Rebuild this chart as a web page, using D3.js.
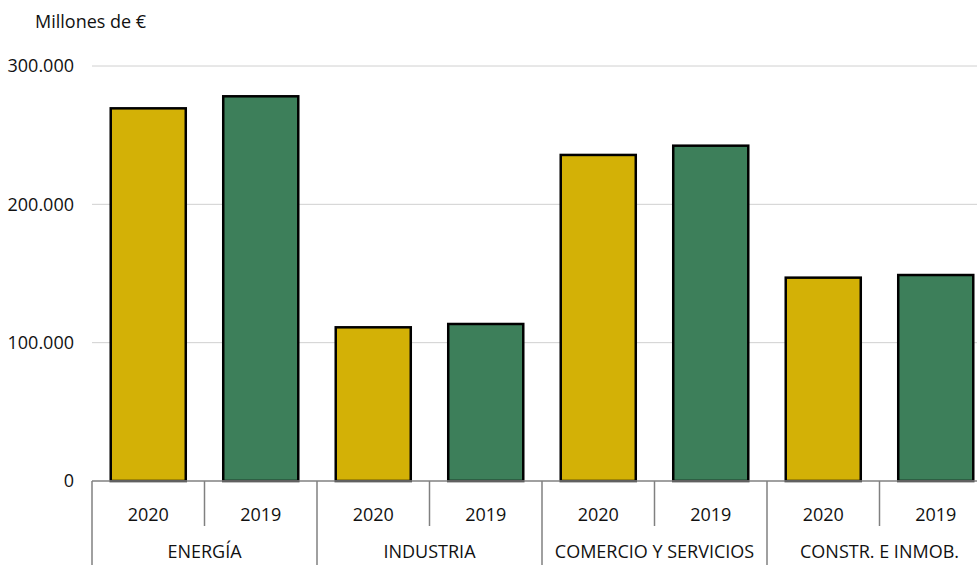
<!DOCTYPE html>
<html>
<head>
<meta charset="utf-8">
<script src="https://cdn.jsdelivr.net/npm/d3@7"></script>
<style>
  html, body { margin: 0; padding: 0; background: #fff; }
  svg { display: block; font-family: "Open Sans", "Noto Sans", sans-serif; }
</style>
</head>
<body>
<div id="chart"></div>
<script>
const width = 977;
const height = 565;

// Datos
const sectores = ["ENERGÍA", "INDUSTRIA", "COMERCIO Y SERVICIOS", "CONSTR. E INMOB."];
const anios = ["2020", "2019"];
const valores2020 = [269400, 111100, 235700, 147000];
const valores2019 = [278100, 113500, 242400, 148900];
const ticksY = [0, 100000, 200000, 300000];

const colores = { "2020": "#d3b106", "2019": "#3d7f5a" };

const margin = { top: 66, left: 92, bottom: 84 };
const plotRight = 992;
const fs = 18;

const svg = d3.select("#chart")
  .append("svg")
  .attr("width", width)
  .attr("height", height);

// Escalas
const x0 = d3.scaleBand()
  .domain(sectores)
  .range([margin.left, plotRight])
  .padding(0);

const x1 = d3.scaleBand()
  .domain(anios)
  .range([0, x0.bandwidth()])
  .paddingInner(0.333)
  .paddingOuter(0.1665);

const y = d3.scaleLinear()
  .domain([0, 300000])
  .range([height - margin.bottom, margin.top]);

const fmt = d => d3.format(",")(d).replace(/,/g, ".");

// Rejilla
svg.append("g")
  .selectAll("line")
  .data(ticksY.filter(d => d > 0))
  .join("line")
  .attr("x1", margin.left)
  .attr("x2", width)
  .attr("y1", d => y(d))
  .attr("y2", d => y(d))
  .attr("stroke", "#d0d0d0")
  .attr("stroke-width", 1);

// Etiquetas eje Y
svg.append("g")
  .selectAll("text")
  .data(ticksY)
  .join("text")
  .attr("x", 74)
  .attr("y", d => y(d))
  .attr("dy", "0.36em")
  .attr("text-anchor", "end")
  .attr("font-size", fs)
  .attr("fill", "#111")
  .text(d => fmt(d));

svg.append("text")
  .attr("x", 35)
  .attr("y", 28)
  .attr("font-size", fs)
  .attr("fill", "#111")
  .text("Millones de €");

// Barras
const datos = [];
sectores.forEach((s, i) => {
  datos.push({ sector: s, anio: "2020", valor: valores2020[i] });
  datos.push({ sector: s, anio: "2019", valor: valores2019[i] });
});

svg.append("g")
  .selectAll("rect")
  .data(datos)
  .join("rect")
  .attr("x", d => x0(d.sector) + x1(d.anio))
  .attr("width", x1.bandwidth())
  .attr("y", d => y(d.valor))
  .attr("height", d => y(0) - y(d.valor))
  .attr("fill", d => colores[d.anio])
  .attr("stroke", "#000")
  .attr("stroke-width", 2.5);

// Eje X
const base = y(0);
svg.append("line")
  .attr("x1", margin.left)
  .attr("x2", width)
  .attr("y1", base)
  .attr("y2", base)
  .attr("stroke", "#808080")
  .attr("stroke-width", 1.5);

// Separadores de años
svg.append("g")
  .selectAll("line")
  .data(sectores)
  .join("line")
  .attr("x1", d => x0(d) + x0.bandwidth() / 2)
  .attr("x2", d => x0(d) + x0.bandwidth() / 2)
  .attr("y1", base)
  .attr("y2", base + 45)
  .attr("stroke", "#808080")
  .attr("stroke-width", 1.5);

// Separadores de sectores
svg.append("g")
  .selectAll("line")
  .data(sectores)
  .join("line")
  .attr("x1", d => x0(d))
  .attr("x2", d => x0(d))
  .attr("y1", base)
  .attr("y2", height)
  .attr("stroke", "#808080")
  .attr("stroke-width", 1.5);

// Etiquetas de años
svg.append("g")
  .selectAll("text")
  .data(datos)
  .join("text")
  .attr("x", d => x0(d.sector) + x1(d.anio) + x1.bandwidth() / 2)
  .attr("y", base + 40)
  .attr("text-anchor", "middle")
  .attr("font-size", fs)
  .attr("fill", "#111")
  .text(d => d.anio);

// Etiquetas de sectores
svg.append("g")
  .selectAll("text")
  .data(sectores)
  .join("text")
  .attr("x", d => x0(d) + x0.bandwidth() / 2)
  .attr("y", height - 7)
  .attr("text-anchor", "middle")
  .attr("font-size", fs)
  .attr("fill", "#111")
  .text(d => d);
</script>
</body>
</html>
